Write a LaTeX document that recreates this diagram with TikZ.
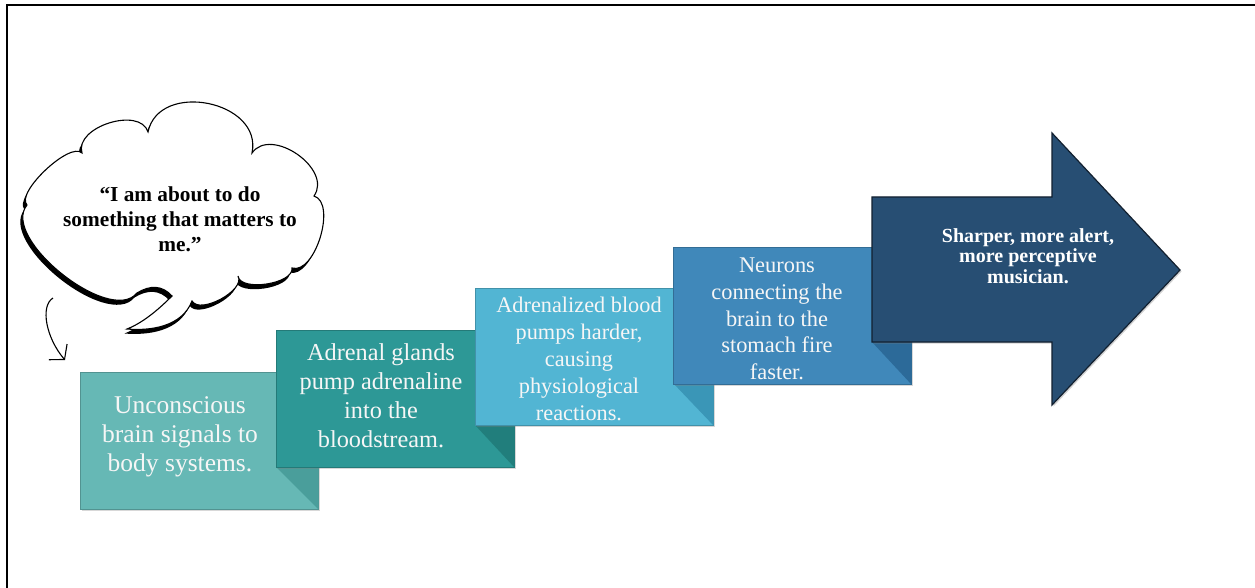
\documentclass[tikz,border=0pt]{standalone}
\usepackage{fontspec}
\setmainfont{Liberation Serif}
\usetikzlibrary{arrows.meta,shadows}

\definecolor{stepA}{RGB}{102,184,181}
\definecolor{stepAfold}{RGB}{74,158,155}
\definecolor{stepB}{RGB}{45,152,150}
\definecolor{stepBfold}{RGB}{33,126,124}
\definecolor{stepC}{RGB}{82,181,211}
\definecolor{stepCfold}{RGB}{58,150,183}
\definecolor{stepD}{RGB}{64,136,186}
\definecolor{stepDfold}{RGB}{44,106,153}
\definecolor{goal}{RGB}{39,78,115}
\definecolor{goaledge}{RGB}{18,32,48}
\definecolor{softwhite}{RGB}{246,246,246}

% outline of the thought bubble (pixel-like units, y pointing down)
\def\thoughtoutline{(192,301)
  .. controls (200,315) and (246,290) .. (238,276)
  .. controls (240,292) and (294,284) .. (292,268)
  .. controls (315,275) and (337,203) .. (314,196)
  .. controls (333,169) and (271,126) .. (252,153)
  .. controls (263,101) and (159,80) .. (148,132)
  .. controls (140,106) and (74,127) .. (82,153)
  .. controls (70,141) and (15,193) .. (27,205)
  .. controls (0,238) and (110,326) .. (137,293)
  .. controls (150,285) and (162,285) .. (172,296)
  .. controls (162,306) and (145,322) .. (127,329)
  .. controls (150,331) and (182,327) .. (192,301) -- cycle}

\begin{document}
\begin{tikzpicture}[x=1pt,y=-1pt,
  stepbox/.style={fill=#1, draw=#1!80!black, line width=0.6pt,
    minimum width=238pt, minimum height=137pt, inner sep=0pt,
    anchor=north west,
    drop shadow={shadow xshift=1.3pt, shadow yshift=-1.3pt, opacity=0.3}},
  steptext/.style={text=softwhite, align=center, inner sep=0pt},
  goaltext/.style={text=white, align=center, inner sep=0pt,
    font=\bfseries\fontsize{20}{20.7}\selectfont},
  thoughttext/.style={text=black, align=center, inner sep=0pt,
    font=\bfseries\fontsize{21.3}{25}\selectfont},
  frameline/.style={line width=2.4pt, black},
  pointer/.style={line width=1.1pt, black,
    -{Straight Barb[length=10pt, width=24pt, line width=1.1pt]}}
]
\useasboundingbox (0,0) rectangle (1255,588);
\fill[white] (0,0) rectangle (1255,588);

% frame (left and top edges)
\draw[frameline] (7,588) -- (7,5) -- (1255,5);

% thought bubble with offset shadow
\fill[black, shift={(-2.5pt,-4.5pt)}] \thoughtoutline;
\draw[fill=white, line width=1.1pt] \thoughtoutline;
\node[thoughttext] (thought) at (180,219)
  {“I am about to do\\something that matters to\\me.”};

% pointer from the bubble to the first step
\coordinate (pstart) at (53,298);
\coordinate (pend) at (65,360);
\draw[pointer] (pstart) .. controls (40,306) and (46,338) .. (pend);

% staircase of steps; each fold sits under the next step's lower edge
\coordinate (f1) at (276,467);
\coordinate (f2) at (475,425);
\coordinate (f3) at (673,383);
\coordinate (f4) at (872,342);

\node[stepbox=stepA] (b1) at (80,372) {};
\fill[stepAfold] (f1) -- (b1.east |- f1) -- (b1.south east) -- cycle;
\node[stepbox=stepB] (b2) at (276,330) {};
\fill[stepBfold] (f2) -- (b2.east |- f2) -- (b2.south east) -- cycle;
\node[stepbox=stepC] (b3) at (475,288) {};
\fill[stepCfold] (f3) -- (b3.east |- f3) -- (b3.south east) -- cycle;
\node[stepbox=stepD] (b4) at (673,247) {};
\fill[stepDfold] (f4) -- (b4.east |- f4) -- (b4.south east) -- cycle;

% final arrow
\coordinate (g1) at (872,197);
\coordinate (g2) at (1052,197);
\coordinate (g3) at (1052,133);
\coordinate (g4) at (1180,270);
\coordinate (g5) at (1052,405);
\coordinate (g6) at (1052,342);
\draw[fill=goal, draw=goaledge, line width=1.2pt,
  drop shadow={shadow xshift=1.5pt, shadow yshift=-1.5pt, opacity=0.35}]
  (g1) -- (g2) -- (g3) -- (g4) -- (g5) -- (g6) -- (f4) -- cycle;

% step texts
\node[steptext, font=\fontsize{25.5}{29}\selectfont] (t1) at (180,437)
  {Unconscious\\brain signals to\\body systems.};
\node[steptext, font=\fontsize{24.3}{29}\selectfont] (t2) at (381,396)
  {Adrenal glands\\pump adrenaline\\into the\\bloodstream.};
\node[steptext, font=\fontsize{22.3}{27}\selectfont] (t3) at (579,359)
  {Adrenalized blood\\pumps harder,\\causing\\physiological\\reactions.};
\node[steptext, font=\fontsize{22.4}{26.7}\selectfont] (t4) at (777,319)
  {Neurons\\connecting the\\brain to the\\stomach fire\\faster.};
\node[goaltext] (t5) at (1028,256)
  {Sharper, more alert,\\more perceptive\\musician.};
\end{tikzpicture}
\end{document}
